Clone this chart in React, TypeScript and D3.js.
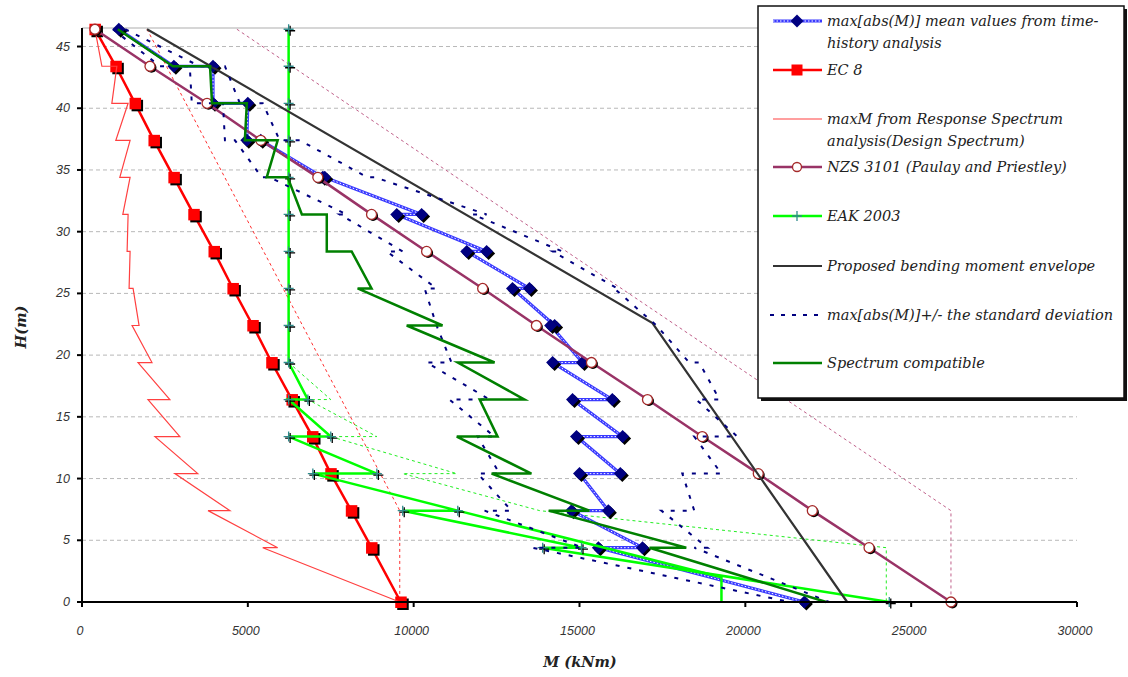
import React from 'react';
import * as d3 from 'd3';

// storey levels (m)
const LEVELS = [46.4, 43.4, 40.4, 37.4, 34.4, 31.4, 28.4, 25.4, 22.4, 19.4, 16.4, 13.4, 10.4, 7.4, 4.4, 0];

const ec8M = [390, 1020, 1600, 2170, 2770, 3370, 3980, 4550, 5150, 5720, 6330, 6950, 7500, 8120, 8730, 9610];
const nzsM = [390, 2050, 3770, 5390, 7110, 8730, 10390, 12080, 13700, 15360, 17050, 18700, 20390, 22020, 23730, 26200];

// zig-zag series: each storey gives a top and a bottom value
const zigH = [46.4, 43.4, 43.4, 40.4, 40.4, 37.4, 37.4, 34.4, 34.4, 31.4, 31.4, 28.4, 28.4, 25.4, 25.4,
  22.4, 22.4, 19.4, 19.4, 16.4, 16.4, 13.4, 13.4, 10.4, 10.4, 7.4, 7.4, 4.4, 4.4, 0];
const meanM = [1110, 2770, 3950, 3950, 5000, 4970, 5390, 7260, 7320, 10240, 9490, 12200, 11600, 13490, 12980,
  14250, 14130, 15090, 14190, 15990, 14790, 16300, 14910, 16230, 15000, 15870, 14760, 16900, 15570, 21780];
const rsM = [390, 600, 1050, 900, 1390, 1020, 1450, 1140, 1450, 1230, 1390, 1360, 1450, 1420, 1540,
  1720, 1510, 2110, 1690, 2650, 1990, 2950, 2200, 3490, 2800, 4460, 3800, 5900, 5450, 9580];
const specM = [1080, 2740, 3860, 3920, 4970, 4910, 5900, 5570, 6200, 6630, 7380, 7380, 8130, 8730, 8310,
  10870, 9790, 12440, 11330, 13340, 11990, 12530, 11300, 13550, 12350, 15300, 14070, 18220, 17110, 22440];

const stdH = [46.4, 43.4, 43.4, 40.4, 40.4, 37.4, 37.4, 34.4, 34.4, 31.4, 31.4, 28.4, 28.4, 25.4, 25.4,
  22.4, 19.4, 19.4, 16.4, 16.4, 13.4, 13.4, 10.4, 10.4, 7.4, 7.4, 4.4, 4.4, 0];
const stdUpM = [1300, 3550, 4310, 4760, 5450, 5960, 6570, 8610, 8830, 12200, 11780, 14490, 14190, 16140, 16050,
  17320, 18310, 18610, 19220, 18520, 19760, 18460, 19280, 18100, 18460, 17470, 18860, 18460, 22530];
const stdLoM = [930, 2350, 3250, 3310, 4250, 4310, 4610, 5420, 5660, 7980, 7770, 9670, 9190, 10690, 10330,
  10690, 11140, 10390, 12290, 11080, 12440, 11930, 12590, 11930, 12950, 12140, 15090, 13580, 21330];

const eakH = [46.4, 43.4, 40.4, 37.4, 34.4, 31.4, 28.4, 25.4, 22.4, 19.4, 16.4, 16.4, 13.4, 13.4, 10.4, 10.4, 7.4, 7.4, 4.4, 4.4, 0];
const eakM = [6230, 6230, 6230, 6230, 6230, 6230, 6230, 6230, 6230, 6230, 6810, 6230, 7500, 6230, 8890, 6960, 11330, 9670, 15060, 13890, 24340];
const eakAltH = [7.4, 2.0, 0];
const eakAltM = [11330, 19280, 19280];
const eakDashH = [19.4, 16.4, 16.4, 13.4, 13.4, 10.4, 10.4, 7.4, 4.4, 0];
const eakDashM = [6230, 7500, 6810, 8890, 7500, 11300, 9670, 13800, 24250, 24250];

const envH = [46.4, 22.6, 0];
const envM = [1960, 17200, 23070];
const ec8EnvH = [46.4, 7.4, 0];
const ec8EnvM = [1960, 9580, 9580];
const nzsEnvH = [46.4, 7.4, 0];
const nzsEnvM = [4670, 26200, 26200];

const xTicks = [0, 5000, 10000, 15000, 20000, 25000, 30000];
const yTicks = [0, 5, 10, 15, 20, 25, 30, 35, 40, 45];

const legendItems = [
  { key: 'mean', lines: ['max[abs(M)] mean values from time-', 'history analysis'], y: 21 },
  { key: 'ec8', lines: ['EC 8'], y: 70 },
  { key: 'rs', lines: ['maxM from Response Spectrum', 'analysis(Design Spectrum)'], y: 119 },
  { key: 'nzs', lines: ['NZS 3101 (Paulay and Priestley)'], y: 167 },
  { key: 'eak', lines: ['EAK 2003'], y: 216 },
  { key: 'env', lines: ['Proposed bending moment envelope'], y: 266 },
  { key: 'std', lines: ['max[abs(M)]+/- the standard deviation'], y: 315 },
  { key: 'spec', lines: ['Spectrum compatible'], y: 363 },
];

const x = d3.scaleLinear().domain([0, 30000]).range([82, 1077]);
const y = d3.scaleLinear().domain([0, 46.5]).range([602, 28]);
const lineGen = d3.line<[number, number]>().x(d => x(d[0])).y(d => y(d[1]));
const pts = (m: number[], h: number[]) => m.map((v, i) => [v, h[i]] as [number, number]);

const diamond = 'M0,-6.5L6.5,0L0,6.5L-6.5,0Z';

function Diamond({ cx, cy }: { cx: number; cy: number }) {
  return (
    <g>
      <path d={diamond} transform={`translate(${cx + 2},${cy + 2})`} fill="#000" />
      <path d={diamond} transform={`translate(${cx},${cy})`} fill="#000080" />
    </g>
  );
}
function Square({ cx, cy }: { cx: number; cy: number }) {
  return (
    <g>
      <rect x={cx - 5.5 + 2} y={cy - 5.5 + 2} width={11.5} height={11.5} fill="#000" />
      <rect x={cx - 5.5} y={cy - 5.5} width={11.5} height={11.5} fill="#ff0000" />
    </g>
  );
}
function Circle({ cx, cy }: { cx: number; cy: number }) {
  return (
    <g>
      <circle cx={cx + 1.5} cy={cy + 1.5} r={5} fill="#000" />
      <circle cx={cx} cy={cy} r={5} fill="#fff" stroke="#a52a2a" strokeWidth={1.3} />
    </g>
  );
}
function Cross({ cx, cy }: { cx: number; cy: number }) {
  return (
    <g strokeWidth={1.3}>
      <path d={`M${cx - 5 + 1.5},${cy + 1.5}h10M${cx + 1.5},${cy - 5 + 1.5}v10`} stroke="#000" />
      <path d={`M${cx - 5},${cy}h10M${cx},${cy - 5}v10`} stroke="#2e8b8b" />
    </g>
  );
}

function MeanLine({ d }: { d: string }) {
  return (
    <g fill="none">
      <path d={d} stroke="#3a3aff" strokeWidth={3.2} />
      <path d={d} stroke="#ffffff" strokeWidth={1} strokeDasharray="1.5,2" />
    </g>
  );
}

function LegendSymbol({ k, cy }: { k: string; cy: number }) {
  const x1 = 773, x2 = 822, cx = 797;
  const seg = `M${x1},${cy}H${x2}`;
  switch (k) {
    case 'mean':
      return <g><MeanLine d={seg} /><path d={diamond} transform={`translate(${cx},${cy})`} fill="#000080" /></g>;
    case 'ec8':
      return <g><path d={seg} stroke="#ff0000" strokeWidth={2.5} /><rect x={cx - 5.5} y={cy - 5.5} width={11} height={11} fill="#ff0000" /></g>;
    case 'rs':
      return <path d={seg} stroke="#ff4040" strokeWidth={1.2} />;
    case 'nzs':
      return <g><path d={seg} stroke="#993366" strokeWidth={2.5} /><circle cx={cx} cy={cy} r={4.5} fill="#fff" stroke="#a52a2a" strokeWidth={1.3} /></g>;
    case 'eak':
      return <g><path d={seg} stroke="#00ff00" strokeWidth={2.5} /><path d={`M${cx - 5},${cy}h10M${cx},${cy - 5}v10`} stroke="#2e8b8b" strokeWidth={1.3} /></g>;
    case 'env':
      return <path d={seg} stroke="#333333" strokeWidth={2.2} />;
    case 'std':
      return <path d={`M${x1 - 3},${cy}H${x2}`} stroke="#000080" strokeWidth={2.2} strokeDasharray="4,7" />;
    default:
      return <path d={seg} stroke="#008000" strokeWidth={2.5} />;
  }
}

export default function App() {
  const ec8 = pts(ec8M, LEVELS);
  const nzs = pts(nzsM, LEVELS);
  const mean = pts(meanM, zigH);
  const eak = pts(eakM, eakH);
  const serif = '"DejaVu Serif", "Liberation Serif", serif';
  const sans = '"Liberation Sans", Arial, sans-serif';

  return (
    <div style={{ position: 'absolute', left: 0, top: 0 }}>
      <svg width={1128} height={677} style={{ display: 'block', background: '#fff' }}>
        {/* grid */}
        {yTicks.filter(t => t > 0).map(t => (
          <line key={t} x1={x(0)} x2={x(30000)} y1={y(t)} y2={y(t)} stroke="#b8b8b8" strokeWidth={1} strokeDasharray="4,3" />
        ))}
        <line x1={x(0)} x2={x(30000)} y1={y(46.5)} y2={y(46.5)} stroke="#c8c8c8" strokeWidth={1.5} />

        {/* dashed helper envelopes */}
        <path d={lineGen(pts(ec8EnvM, ec8EnvH)) || ''} fill="none" stroke="#ff3030" strokeWidth={1} strokeDasharray="3,3" />
        <path d={lineGen(pts(nzsEnvM, nzsEnvH)) || ''} fill="none" stroke="#c0608a" strokeWidth={1} strokeDasharray="3,3" />
        <path d={lineGen(pts(eakDashM, eakDashH)) || ''} fill="none" stroke="#22ee22" strokeWidth={1} strokeDasharray="3,3" />

        {/* mean time-history */}
        <MeanLine d={lineGen(mean) || ''} />
        {mean.map((p, i) => <Diamond key={i} cx={x(p[0])} cy={y(p[1])} />)}

        {/* EC 8 */}
        <path d={lineGen(ec8) || ''} fill="none" stroke="#ff0000" strokeWidth={2.5} />
        {ec8.map((p, i) => <Square key={i} cx={x(p[0])} cy={y(p[1])} />)}

        {/* response spectrum */}
        <path d={lineGen(pts(rsM, zigH)) || ''} fill="none" stroke="#ff4040" strokeWidth={1.2} />

        {/* NZS 3101 */}
        <path d={lineGen(nzs) || ''} fill="none" stroke="#993366" strokeWidth={2.5} />
        {nzs.map((p, i) => <Circle key={i} cx={x(p[0])} cy={y(p[1])} />)}

        {/* EAK 2003 */}
        <path d={lineGen(pts(eakAltM, eakAltH)) || ''} fill="none" stroke="#00ff00" strokeWidth={2.5} />
        <path d={lineGen(eak) || ''} fill="none" stroke="#00ff00" strokeWidth={2.5} />
        {eak.map((p, i) => <Cross key={i} cx={x(p[0])} cy={y(p[1])} />)}

        {/* proposed envelope */}
        <path d={lineGen(pts(envM, envH)) || ''} fill="none" stroke="#333333" strokeWidth={2.2} />

        {/* mean +/- std */}
        <path d={lineGen(pts(stdUpM, stdH)) || ''} fill="none" stroke="#000080" strokeWidth={2} strokeDasharray="4,8" />
        <path d={lineGen(pts(stdLoM, stdH)) || ''} fill="none" stroke="#000080" strokeWidth={2} strokeDasharray="4,8" />

        {/* spectrum compatible */}
        <path d={lineGen(pts(specM, zigH)) || ''} fill="none" stroke="#008000" strokeWidth={2.5} />

        {/* axes */}
        <line x1={x(0)} x2={x(0)} y1={y(46.5)} y2={y(0)} stroke="#000" strokeWidth={2} />
        <line x1={x(0)} x2={x(30000)} y1={y(0)} y2={y(0)} stroke="#000" strokeWidth={2} />
        {yTicks.map(t => (
          <g key={t}>
            <line x1={x(0) - 5} x2={x(0)} y1={y(t)} y2={y(t)} stroke="#000" strokeWidth={2} />
            <text x={70} y={y(t) + 4} textAnchor="end" fontFamily={sans} fontStyle="italic" fontSize={12.5} fill="#333">{t}</text>
          </g>
        ))}
        {xTicks.map(t => (
          <g key={t}>
            <line x1={x(t)} x2={x(t)} y1={y(0)} y2={y(0) + 5} stroke="#000" strokeWidth={2} />
            <text x={x(t) - 2} y={635} textAnchor="middle" fontFamily={sans} fontStyle="italic" fontSize={12.5} fill="#333">{t}</text>
          </g>
        ))}
        <text x={580} y={667} textAnchor="middle" fontFamily={serif} fontStyle="italic" fontWeight="bold" fontSize={14.5} fill="#222">M (kNm)</text>
        <text transform="translate(26,327) rotate(-90)" textAnchor="middle" fontFamily={serif} fontStyle="italic" fontWeight="bold" fontSize={14.5} fill="#222">H(m)</text>

        {/* legend */}
        <rect x={761} y={9} width={366} height={392} fill="#111" />
        <rect x={758} y={6} width={366} height={392} fill="#fff" stroke="#111" strokeWidth={1.5} />
        {legendItems.map(it => (
          <g key={it.key}>
            <LegendSymbol k={it.key} cy={it.y} />
            {it.lines.map((s, j) => (
              <text key={j} x={827} y={it.y + 5 + j * 22} fontFamily={serif} fontStyle="italic" fontSize={14.5} fill="#222">{s}</text>
            ))}
          </g>
        ))}
      </svg>
    </div>
  );
}
